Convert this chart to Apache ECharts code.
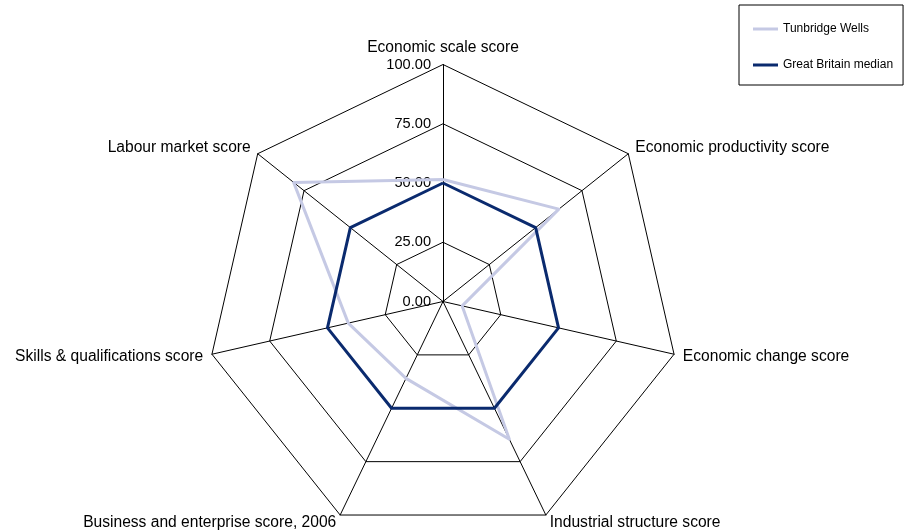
<!DOCTYPE html>
<html>
<head>
<meta charset="utf-8">
<script src="https://cdn.jsdelivr.net/npm/echarts@6/dist/echarts.min.js"></script>
<style>
html,body{margin:0;padding:0;background:#fff;}
#chart{width:905px;height:531px;}
</style>
</head>
<body>
<div id="chart"></div>
<script>
// Indicators in clockwise visual order starting at the top
var indicators = [
  'Economic scale score',
  'Economic productivity score',
  'Economic change score',
  'Industrial structure score',
  'Business and enterprise score, 2006',
  'Skills & qualifications score',
  'Labour market score'
];
var tunbridgeWells = [51.5, 62.5, 8.3, 64.5, 36, 41, 80.6];
var gbMedian = [50, 50, 50, 50, 50, 50, 50];
var seriesNames = ['Tunbridge Wells', 'Great Britain median'];
var axisMax = 100;
var tickInterval = 25;

// ECharts lays radar indicators counter-clockwise; reorder so they read clockwise
function toCCW(arr) {
  var out = [arr[0]];
  for (var i = arr.length - 1; i >= 1; i--) out.push(arr[i]);
  return out;
}

var indicatorOpts = toCCW(indicators).map(function (name, i) {
  var o = { name: name, min: 0, max: axisMax };
  if (i === 0) {
    o.axisLabel = {
      show: true,
      color: '#000',
      fontSize: 14.6,
      fontFamily: 'Liberation Sans',
      margin: 12,
      padding: [4, 0, 0, 0],
      formatter: function (v) { return Number(v).toFixed(2); }
    };
  }
  return o;
});

var chart = echarts.init(document.getElementById('chart'), null, { renderer: 'canvas' });
chart.setOption({
  backgroundColor: '#fff',
  animation: false,
  legend: {
    orient: 'vertical',
    left: 739,
    top: 5,
    padding: [18, 10, 14, 14],
    itemGap: 24,
    itemWidth: 25,
    itemHeight: 3,
    icon: 'rect',
    borderColor: '#000',
    borderWidth: 1,
    textStyle: { color: '#000', fontSize: 12, fontFamily: 'Liberation Sans' },
    data: seriesNames
  },
  radar: {
    center: [443, 301.5],
    radius: 237,
    shape: 'polygon',
    splitNumber: axisMax / tickInterval,
    nameGap: 9,
    axisName: { color: '#000', fontSize: 15.6, fontFamily: 'Liberation Sans' },
    axisLine: { lineStyle: { color: '#000', width: 1 } },
    splitLine: { lineStyle: { color: '#000', width: 1 } },
    splitArea: { show: false },
    axisTick: { show: false },
    axisLabel: { show: false },
    indicator: indicatorOpts
  },
  series: [
    {
      type: 'radar',
      name: seriesNames[0],
      symbol: 'none',
      z: 2,
      lineStyle: { color: '#c5c9e4', width: 3 },
      itemStyle: { color: '#c5c9e4' },
      data: [{ name: seriesNames[0], value: toCCW(tunbridgeWells) }]
    },
    {
      type: 'radar',
      name: seriesNames[1],
      symbol: 'none',
      z: 3,
      lineStyle: { color: '#0a2a6e', width: 3 },
      itemStyle: { color: '#0a2a6e' },
      data: [{ name: seriesNames[1], value: toCCW(gbMedian) }]
    }
  ]
});
</script>
</body>
</html>
